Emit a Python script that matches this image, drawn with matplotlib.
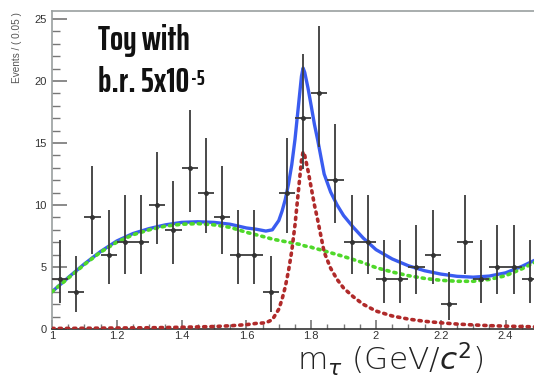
import math
import matplotlib
matplotlib.use("Agg")
import matplotlib.pyplot as plt
import numpy as np
from matplotlib import font_manager
from matplotlib.textpath import TextPath

# ---- data: binned toy events (bin width 0.05) ----
bin_centers = [1.025, 1.075, 1.125, 1.175, 1.225, 1.275, 1.325, 1.375, 1.425, 1.475,
               1.525, 1.575, 1.625, 1.675, 1.725, 1.775, 1.825, 1.875, 1.925, 1.975,
               2.025, 2.075, 2.125, 2.175, 2.225, 2.275, 2.325, 2.375, 2.425, 2.475]
counts = [4, 3, 9, 6, 7, 7, 10, 8, 13, 11,
          9, 6, 6, 3, 11, 17, 19, 12, 7, 7,
          4, 4, 5, 6, 2, 7, 4, 5, 5, 4]
bin_half_width = 0.025

# ---- fitted curves ----
curve_x = [1.00, 1.05, 1.10, 1.15, 1.20, 1.25, 1.30, 1.35, 1.40, 1.45, 1.50, 1.55,
           1.60, 1.63, 1.66, 1.68, 1.70, 1.71, 1.72, 1.73, 1.74, 1.75, 1.76, 1.77,
           1.775, 1.78, 1.79, 1.80, 1.81, 1.82, 1.84, 1.86, 1.88, 1.90, 1.93, 1.96,
           2.00, 2.05, 2.10, 2.15, 2.20, 2.25, 2.30, 2.35, 2.40, 2.45, 2.50]
background = [3.0, 4.1, 5.2, 6.2, 7.0, 7.6, 8.0, 8.3, 8.45, 8.5, 8.4, 8.2,
              7.8, 7.6, 7.4, 7.25, 7.15, 7.1, 7.05, 7.0, 6.95, 6.9, 6.85, 6.8,
              6.75, 6.7, 6.65, 6.6, 6.5, 6.45, 6.3, 6.15, 6.0, 5.85, 5.6, 5.35,
              4.95, 4.6, 4.3, 4.08, 3.93, 3.85, 3.85, 4.0, 4.3, 4.85, 5.5]
signal = [0.05, 0.05, 0.06, 0.07, 0.08, 0.09, 0.10, 0.12, 0.14, 0.17, 0.20, 0.26,
          0.35, 0.45, 0.5, 0.75, 1.6, 2.4, 3.4, 4.7, 6.3, 8.4, 11.0, 13.6,
          14.3, 14.0, 12.8, 11.4, 10.0, 8.8, 6.2, 4.9, 4.0, 3.3, 2.6, 2.0,
          1.45, 1.05, 0.8, 0.62, 0.5, 0.4, 0.33, 0.27, 0.23, 0.2, 0.17]
total = [3.0, 4.15, 5.25, 6.25, 7.1, 7.7, 8.1, 8.4, 8.6, 8.65, 8.6, 8.45,
         8.15, 8.05, 7.9, 8.0, 8.75, 9.5, 10.45, 11.7, 13.25, 15.3, 17.85, 20.4,
         21.05, 20.7, 19.45, 18.0, 16.5, 15.25, 12.5, 11.05, 10.0, 9.15, 8.2, 7.35,
         6.4, 5.65, 5.1, 4.7, 4.43, 4.25, 4.18, 4.27, 4.53, 5.05, 5.67]

x_ticks = [1.0, 1.2, 1.4, 1.6, 1.8, 2.0, 2.2, 2.4]
x_tick_labels = ["1", "1.2", "1.4", "1.6", "1.8", "2", "2.2", "2.4"]
y_ticks = [0, 5, 10, 15, 20, 25]
y_tick_labels = ["0", "5", "10", "15", "20", "25"]


# ---- Poisson (Garwood) 68.27% intervals, as ROOT draws them ----
def pois_cdf(k, mu):
    s, term = 0.0, math.exp(-mu)
    for i in range(k + 1):
        if i > 0:
            term *= mu / i
        s += term
    return s


def bisect(f, lo, hi):
    for _ in range(80):
        mid = 0.5 * (lo + hi)
        if f(mid) > 0:
            lo = mid
        else:
            hi = mid
    return 0.5 * (lo + hi)


alpha = 0.5 * (1 - 0.682689)
err_lo, err_hi = [], []
for n in counts:
    if n == 0:
        lo = 0.0
    else:
        lo = bisect(lambda m: alpha - (1 - pois_cdf(n - 1, m)), 0.0, n + 1.0)
    hi = bisect(lambda m: pois_cdf(n, m) - alpha, n, n + 20.0 + 5 * math.sqrt(n + 1))
    err_lo.append(n - lo)
    err_hi.append(hi - n)

# ---- pick the installed bold narrow face whose proportions fit best ----
TARGET_W, TARGET_CAP = 95.0, 24.0
ttf = font_manager.fontManager.ttflist
cands = [f for f in ttf
         if ("Condensed" in f.name or "Narrow" in f.name
             or str(f.stretch) in ("condensed", "extra-condensed", "semi-condensed"))
         and isinstance(f.weight, int) and f.weight >= 600
         and f.style == "normal"]
best_fp, best_score = None, None
for f in cands:
    try:
        fp_try = font_manager.FontProperties(fname=f.fname)
        wv = TextPath((0, 0), "Toy with", size=100, prop=fp_try).get_extents().width
        hv = TextPath((0, 0), "T", size=100, prop=fp_try).get_extents().height
    except Exception:
        continue
    if hv <= 0:
        continue
    ratio = wv / hv
    score = abs(ratio - TARGET_W / TARGET_CAP) * 100 + abs(f.weight - 700) / 5
    if best_score is None or score < best_score:
        best_score, best_fp, best_w = score, fp_try, wv
if best_fp is None:
    best_fp = font_manager.FontProperties(family="DejaVu Sans", weight="bold",
                                          stretch="condensed")
    best_w = TextPath((0, 0), "Toy with", size=100, prop=best_fp).get_extents().width
# size in points so that "Toy with" spans about TARGET_W pixels at 100 dpi
note_fs = min(100 * TARGET_W / best_w * 0.72 * 0.95, 26)

# ---- figure ----
W, H = 534, 378
fig = plt.figure(figsize=(W / 100, H / 100), dpi=100)
ax = fig.add_axes([52 / W, 49 / H, 486 / W, 318 / H])
ax.set_xlim(1.0, 2.5)
ax.set_ylim(0, 25.65)

ax.plot(curve_x, total, color="#3a5cf0", lw=2.4, solid_capstyle="round", zorder=3)
ax.plot(curve_x, background, color="#4fd82a", lw=2.6,
        linestyle=(0, (0.6, 1.4)), dash_capstyle="round", zorder=4)
ax.plot(curve_x, signal, color="#b02a2a", lw=2.6,
        linestyle=(0, (0.6, 1.4)), dash_capstyle="round", zorder=4)

ax.errorbar(bin_centers, counts, yerr=[err_lo, err_hi], xerr=bin_half_width,
            fmt="o", ms=2.5, color="#333333", ecolor="#3c3c3c", elinewidth=1.3,
            capsize=0, zorder=5)

# spines and ticks (ROOT-like, ticks inside)
for s in ["left", "top", "right"]:
    ax.spines[s].set_color("#9aa0a0")
    ax.spines[s].set_linewidth(1.2)
ax.spines["bottom"].set_color("#333333")
ax.spines["bottom"].set_linewidth(1.2)

ax.set_xticks(x_ticks)
ax.set_xticklabels(x_tick_labels)
ax.set_xticks(np.arange(1.0, 2.5001, 0.05), minor=True)
ax.set_yticks(y_ticks)
ax.set_yticklabels(y_tick_labels)
ax.set_yticks(np.arange(0, 26, 1), minor=True)

ax.tick_params(axis="both", which="both", direction="in", colors="#777777",
               labelcolor="#333333", labelsize=8)
ax.tick_params(axis="y", which="major", length=10.5, width=1.2, pad=4)
ax.tick_params(axis="y", which="minor", length=5.5, width=1.0)
ax.tick_params(axis="x", which="major", length=6.5, width=1.2, pad=1.5)
ax.tick_params(axis="x", which="minor", length=3.5, width=1.0)
ax.tick_params(top=False, right=False, which="both")
for lab in ax.get_xticklabels() + ax.get_yticklabels():
    lab.set_family("Liberation Sans")

# y axis title (top aligned, ROOT style)
fig.text(17 / W, 1 - 12 / H, "Events / ( 0.05 )", rotation=90, ha="center",
         va="top", fontsize=7.2, color="#555555", family="Liberation Sans")

# x axis title
fig.text(390 / W, 1 - 370 / H, r"m$_{\tau}$ (GeV/$c^{2}$)", ha="center",
         va="baseline", fontsize=22.5, color="#222222", family="DejaVu Sans",
         fontweight="light")

# annotation text
t1 = fig.text(98 / W, 1 - 50 / H, "Toy with", ha="left", va="baseline",
              fontproperties=best_fp, color="#111111")
t1.set_fontsize(note_fs)
t2 = fig.text(98 / W, 1 - 92 / H, "b.r. 5x10", ha="left", va="baseline",
              fontproperties=best_fp, color="#111111")
t2.set_fontsize(note_fs)
t3 = ax.annotate("-5", xy=(1.0, 0.6), xycoords=t2, xytext=(1, 0),
                 textcoords="offset points", ha="left", va="center",
                 fontproperties=best_fp, color="#111111")
t3.set_fontsize(note_fs * 0.62)

fig.savefig("out.png", dpi=100)
